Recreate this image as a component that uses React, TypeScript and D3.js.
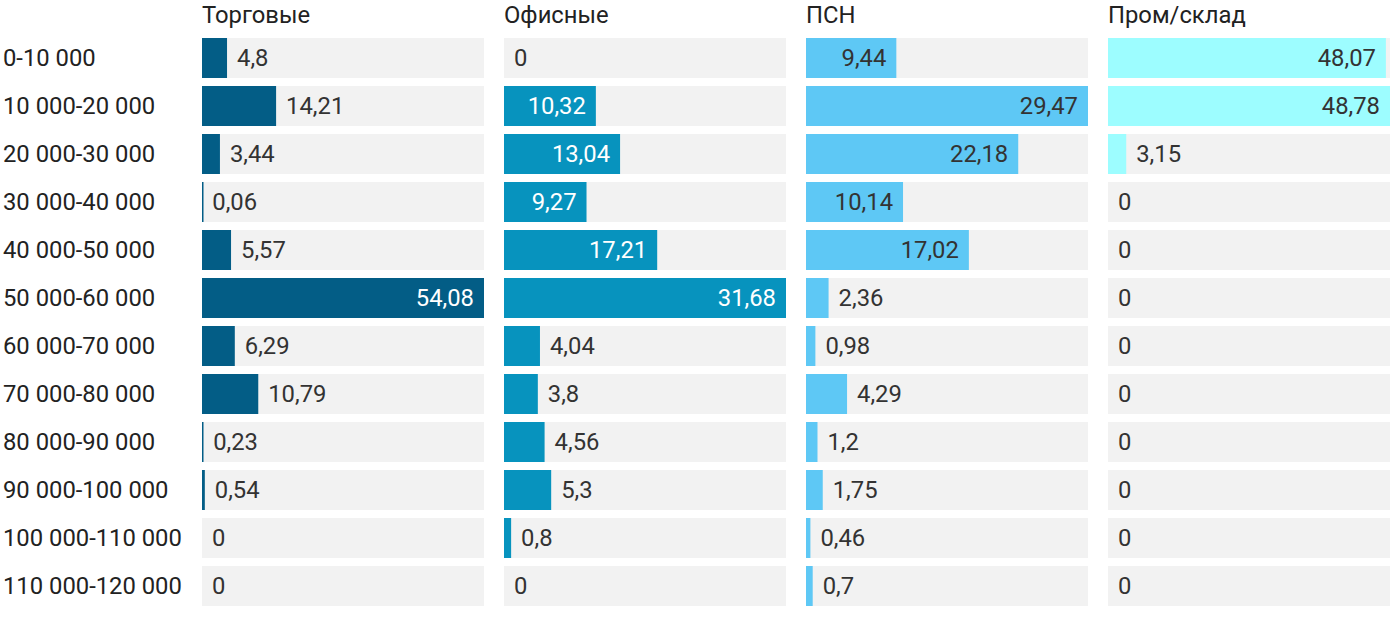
import React, { useEffect, useRef } from 'react';
import * as d3 from 'd3';

const categories = [
  '0-10 000', '10 000-20 000', '20 000-30 000', '30 000-40 000', '40 000-50 000',
  '50 000-60 000', '60 000-70 000', '70 000-80 000', '80 000-90 000',
  '90 000-100 000', '100 000-110 000', '110 000-120 000',
];

const panelTitles = ['Торговые', 'Офисные', 'ПСН', 'Пром/склад'];

const retail = [4.8, 14.21, 3.44, 0.06, 5.57, 54.08, 6.29, 10.79, 0.23, 0.54, 0, 0];
const office = [0, 10.32, 13.04, 9.27, 17.21, 31.68, 4.04, 3.8, 4.56, 5.3, 0.8, 0];
const psn = [9.44, 29.47, 22.18, 10.14, 17.02, 2.36, 0.98, 4.29, 1.2, 1.75, 0.46, 0.7];
const industrial = [48.07, 48.78, 3.15, 0, 0, 0, 0, 0, 0, 0, 0, 0];

const series = [retail, office, psn, industrial];
const barColors = ['#035d86', '#0793be', '#5ec8f5', '#9dfdff'];
const insideText = ['#ffffff', '#ffffff', '#333333', '#333333'];

const App: React.FC = () => {
  const svgRef = useRef<SVGSVGElement>(null);

  useEffect(() => {
    if (!svgRef.current) return;
    const width = 1400;
    const height = 622;
    const font = 'Roboto, "Noto Sans", sans-serif';
    const fs = 23.8;

    const svg = d3.select(svgRef.current).attr('width', width).attr('height', height);
    svg.selectAll('*').remove();

    // 12 rows, step 48, bar height 40
    const y = d3.scaleBand<string>().domain(categories).range([38, 38 + 48 * 12 - 8]).paddingInner(1 / 6);
    const panelLeft = d3.scaleBand<number>().domain([0, 1, 2, 3]).range([202, 202 + 302 * 4 - 20]).paddingInner(20 / 302);
    const pw = panelLeft.bandwidth();

    // category labels
    svg.append('g')
      .selectAll('text')
      .data(categories)
      .join('text')
      .attr('x', 3)
      .attr('y', d => (y(d) as number) + y.bandwidth() / 2)
      .attr('dy', '0.35em')
      .attr('font-family', font)
      .attr('font-size', fs)
      .attr('fill', '#222')
      .text(d => d);

    series.forEach((vals, p) => {
      const x0 = panelLeft(p) as number;
      const x = d3.scaleLinear().domain([0, d3.max(vals) as number]).range([0, pw]);
      const g = svg.append('g').attr('transform', `translate(${x0},0)`);

      g.append('text')
        .attr('x', 0)
        .attr('y', 15)
        .attr('dy', '0.35em')
        .attr('font-family', font)
        .attr('font-size', fs)
        .attr('fill', '#222')
        .text(panelTitles[p]);

      g.selectAll('rect.bg')
        .data(categories)
        .join('rect')
        .attr('class', 'bg')
        .attr('x', 0)
        .attr('y', d => y(d) as number)
        .attr('width', pw)
        .attr('height', y.bandwidth())
        .attr('fill', '#f2f2f2');

      const rows = vals.map((v, i) => ({ v, c: categories[i] }));

      g.selectAll('rect.bar')
        .data(rows.filter(r => r.v > 0))
        .join('rect')
        .attr('class', 'bar')
        .attr('x', 0)
        .attr('y', d => y(d.c) as number)
        .attr('width', d => Math.max(1.5, x(d.v)))
        .attr('height', y.bandwidth())
        .attr('fill', barColors[p]);

      g.selectAll('text.val')
        .data(rows)
        .join('text')
        .attr('class', 'val')
        .each(function (d) {
          const w = x(d.v);
          const inside = w > 80;
          d3.select(this)
            .attr('x', inside ? w - 10 : w + 10)
            .attr('text-anchor', inside ? 'end' : 'start')
            .attr('fill', inside ? insideText[p] : '#333');
        })
        .attr('y', d => (y(d.c) as number) + y.bandwidth() / 2)
        .attr('dy', '0.35em')
        .attr('font-family', font)
        .attr('font-size', fs)
        .text(d => String(d.v).replace('.', ','));
    });
  }, []);

  return (
    <div style={{ position: 'absolute', left: 0, top: 0 }}>
      <svg ref={svgRef} />
    </div>
  );
};

export default App;
